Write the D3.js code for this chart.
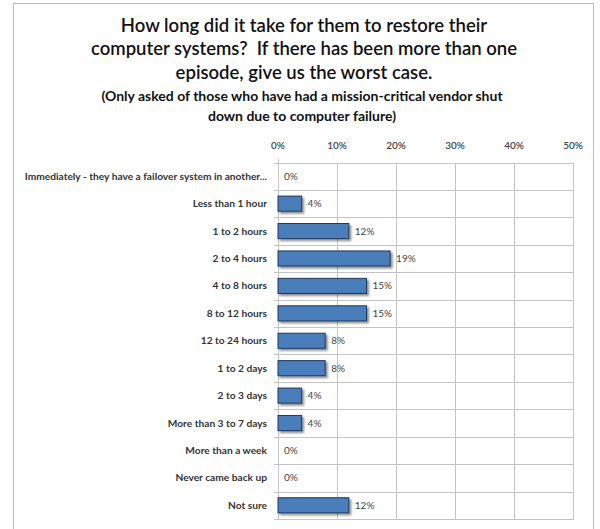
<!DOCTYPE html>
<html>
<head>
<meta charset="utf-8">
<script src="https://cdn.jsdelivr.net/npm/d3@7/dist/d3.min.js"></script>
<style>
  html, body { margin: 0; padding: 0; background: #fff; }
  svg { display: block; }
  text { white-space: pre; }
</style>
</head>
<body>
<svg id="chart" width="600" height="529"></svg>
<script>
// Survey responses: time needed to restore computer systems
const categories = [
  "Immediately - they have a failover system in another...",
  "Less than 1 hour",
  "1 to 2 hours",
  "2 to 4 hours",
  "4 to 8 hours",
  "8 to 12 hours",
  "12 to 24 hours",
  "1 to 2 days",
  "2 to 3 days",
  "More than 3 to 7 days",
  "More than a week",
  "Never came back up",
  "Not sure"
];
const values = [0, 4, 12, 19, 15, 15, 8, 8, 4, 4, 0, 0, 12];
const valueLabels = ["0%", "4%", "12%", "19%", "15%", "15%", "8%", "8%", "4%", "4%", "0%", "0%", "12%"];
const tickValues = [0, 10, 20, 30, 40, 50];
const tickLabels = ["0%", "10%", "20%", "30%", "40%", "50%"];

const titleLines = [
  "How long did it take for them to restore their",
  "computer systems?  If there has been more than one",
  "episode, give us the worst case."
];
const subtitleLines = [
  "(Only asked of those who have had a mission-critical vendor shut",
  "down due to computer failure)"
];

const font = "Lato, 'Open Sans', sans-serif";
const svg = d3.select("#chart");

const defs = svg.append("defs");
const shadow = defs.append("filter").attr("id", "barShadow")
  .attr("x", "-10%").attr("y", "-30%").attr("width", "130%").attr("height", "190%");
shadow.append("feGaussianBlur").attr("in", "SourceAlpha").attr("stdDeviation", 1.2).attr("result", "blur");
shadow.append("feOffset").attr("in", "blur").attr("dx", 2).attr("dy", 2).attr("result", "off");
shadow.append("feComponentTransfer").attr("in", "off").attr("result", "soft")
  .append("feFuncA").attr("type", "linear").attr("slope", 0.45);
const merge = shadow.append("feMerge");
merge.append("feMergeNode").attr("in", "soft");
merge.append("feMergeNode").attr("in", "SourceGraphic");

// Outer chart frame
svg.append("rect")
  .attr("x", 13.5).attr("y", 3.5)
  .attr("width", 580).attr("height", 540)
  .attr("fill", "#fff").attr("stroke", "#bdbdbd").attr("stroke-width", 1);

// Titles
const titleG = svg.append("g").attr("text-anchor", "middle").attr("fill", "#111");
const titleBaselines = [31.5, 55, 78.5];
titleLines.forEach((t, i) => {
  titleG.append("text")
    .attr("x", 304).attr("y", titleBaselines[i])
    .attr("font-family", font).attr("font-size", 18.5).attr("font-weight", 600)
    .text(t);
});
const subBaselines = [100.5, 120.5];
subtitleLines.forEach((t, i) => {
  titleG.append("text")
    .attr("x", 302).attr("y", subBaselines[i])
    .attr("font-family", font).attr("font-size", 14).attr("font-weight", 700)
    .text(t);
});

// Scales
const x = d3.scaleLinear().domain([0, 50]).range([277.5, 572.5]);
const y = d3.scaleBand().domain(categories).range([162.5, 519])
  .paddingInner(0.45).paddingOuter(0.225);

const step = y.step();
const bandTop = d => y(d) - y.paddingOuter() * step;

const grid = svg.append("g").attr("stroke", "#c4c4c4").attr("stroke-width", 1).attr("shape-rendering", "crispEdges");

// Horizontal gridlines at every category boundary (with short outward ticks)
const boundaries = categories.map(c => bandTop(c)).concat([y.range()[1]]);
grid.selectAll("line.h").data(boundaries).join("line")
  .attr("class", "h")
  .attr("x1", x(0) - 4).attr("x2", x(50))
  .attr("y1", d => Math.round(d) + 0.5).attr("y2", d => Math.round(d) + 0.5);

// Vertical gridlines at each tick
grid.selectAll("line.v").data(tickValues).join("line")
  .attr("class", "v")
  .attr("x1", d => Math.round(x(d)) + 0.5).attr("x2", d => Math.round(x(d)) + 0.5)
  .attr("y1", d => d === 0 ? y.range()[0] - 4 : y.range()[0])
  .attr("y2", y.range()[1] + 0.5);

// Top value axis labels
const xAxis = d3.axisTop(x).tickValues(tickValues)
  .tickFormat((d, i) => tickLabels[i]).tickSize(0).tickPadding(0);
const axisG = svg.append("g").attr("transform", "translate(0,149)").call(xAxis);
axisG.select(".domain").remove();
axisG.selectAll("text")
  .attr("font-family", font).attr("font-size", 10).attr("font-weight", 600)
  .attr("fill", "#444").attr("dy", 0);

// Category labels
svg.append("g").selectAll("text").data(categories).join("text")
  .attr("x", 267)
  .attr("y", d => y(d) + y.bandwidth() / 2)
  .attr("dy", "0.35em")
  .attr("text-anchor", "end")
  .attr("font-family", font).attr("font-size", 10.2).attr("font-weight", 700)
  .attr("fill", "#333")
  .text(d => d);

// Bars
svg.append("g").selectAll("rect").data(categories.filter((c, i) => values[i] > 0)).join("rect")
  .attr("x", x(0) + 0.5)
  .attr("y", d => y(d))
  .attr("width", d => x(values[categories.indexOf(d)]) - x(0))
  .attr("height", y.bandwidth())
  .attr("fill", "#4a7ebb")
  .attr("stroke", "#1f3a60")
  .attr("stroke-width", 1)
  .attr("filter", "url(#barShadow)");

// Value labels
svg.append("g").selectAll("text").data(categories).join("text")
  .attr("x", (d, i) => x(values[i]) + 6.5)
  .attr("y", d => y(d) + y.bandwidth() / 2)
  .attr("dy", "0.35em")
  .attr("font-family", font).attr("font-size", 10)
  .attr("fill", "#444")
  .text((d, i) => valueLabels[i]);
</script>
</body>
</html>
